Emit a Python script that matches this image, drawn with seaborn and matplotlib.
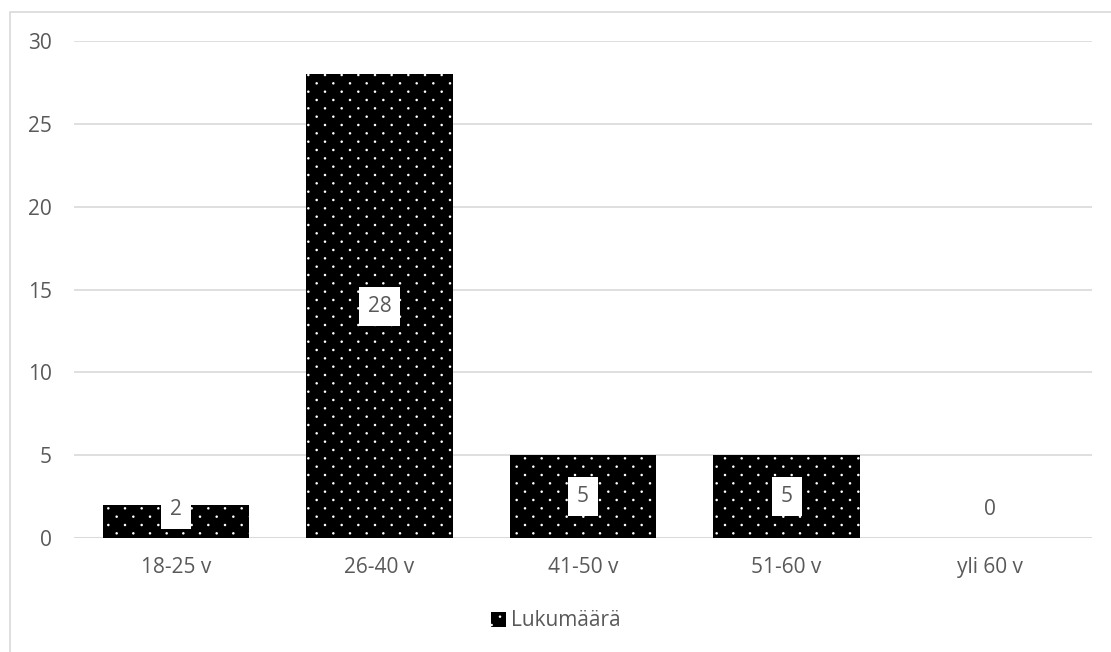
import matplotlib
matplotlib.use("Agg")
import matplotlib.pyplot as plt
import matplotlib.hatch as mhatch
from matplotlib.path import Path
from matplotlib.patches import Rectangle
import numpy as np
import seaborn as sns
import pandas as pd

categories = ["18-25 v", "26-40 v", "41-50 v", "51-60 v", "yli 60 v"]
counts = [2, 28, 5, 5, 0]
series_name = "Lukumäärä"
y_ticks = [0, 5, 10, 15, 20, 25, 30]


class DotLattice(mhatch.HatchPatternBase):
    """Small dots on a staggered (checkerboard) lattice for the '.' hatch."""
    filled = True

    def __init__(self, hatch, density):
        n = hatch.count(".") * density * 2
        self.num_rows = n
        if n == 0:
            self.offsets = []
            self.num_vertices = 0
            return
        self.offsets = [(i / n, j / n) for j in range(n + 1)
                        for i in range(n + 1) if (i + j) % 2 == 0]
        circle = Path.unit_circle()
        self.shape_vertices = circle.vertices * 0.0055
        self.shape_codes = circle.codes
        self.num_vertices = len(self.offsets) * len(self.shape_vertices)

    def set_vertices_and_codes(self, vertices, codes):
        nv = len(self.shape_vertices)
        for k, (x, y) in enumerate(self.offsets):
            vertices[k * nv:(k + 1) * nv] = self.shape_vertices + (x, y)
            codes[k * nv:(k + 1) * nv] = self.shape_codes


mhatch._hatch_types = [DotLattice if t is mhatch.SmallFilledCircles else t
                       for t in mhatch._hatch_types]

sns.set_style("white")
plt.rcParams["font.family"] = ["Open Sans", "DejaVu Sans"]
plt.rcParams["hatch.color"] = "white"
plt.rcParams["hatch.linewidth"] = 1.0

text_color = "#595959"
grid_color = "#d9d9d9"
fs = 15

df = pd.DataFrame({"Ikä": categories, series_name: counts})

fig = plt.figure(figsize=(11.11, 6.52), dpi=100)
ax = fig.add_axes([74 / 1111, 1 - 538 / 652, (1092 - 74) / 1111, (538 - 41) / 652])

sns.barplot(data=df, x="Ikä", y=series_name, color="black", width=0.72,
            saturation=1, ax=ax, zorder=3, label=series_name)

for p in ax.patches:
    p.set_hatch(".")
    p.set_edgecolor("white")
    p.set_linewidth(0)
    p.set_facecolor("black")

ax.set_ylim(0, 30)
ax.set_yticks(y_ticks)
ax.set_xlabel("")
ax.set_ylabel("")
ax.yaxis.grid(True, color=grid_color, linewidth=1.2, zorder=0)
ax.set_axisbelow(True)
for s in ax.spines.values():
    s.set_visible(False)
ax.axhline(0, color=grid_color, linewidth=1.2, zorder=2)
ax.tick_params(axis="both", length=0, labelsize=fs, labelcolor=text_color)
ax.tick_params(axis="x", pad=14)
ax.tick_params(axis="y", pad=16)

# value labels in white boxes centred on each bar (kept clear of the baseline)
min_label_y = 1.7
for i, v in enumerate(counts):
    y = max(v / 2, min_label_y)
    if v > 0:
        ax.text(i, y, str(v), ha="center", va="center", fontsize=fs,
                color=text_color, zorder=5,
                bbox=dict(facecolor="white", edgecolor="none", pad=6.5))
    else:
        ax.text(i, y, str(v), ha="center", va="center", fontsize=fs,
                color=text_color, zorder=5)

leg = ax.legend(loc="center", bbox_to_anchor=(0.5, 1 - 621 / 652),
                bbox_transform=fig.transFigure, frameon=False, fontsize=fs,
                handlelength=0.75, handleheight=0.75, handletextpad=0.2)
for t in leg.get_texts():
    t.set_color(text_color)

# chart area border
fig.patches.append(Rectangle((10 / 1111, -0.05), 1.2, 1 - 12 / 652 + 0.05,
                             transform=fig.transFigure, fill=False,
                             edgecolor=grid_color, linewidth=1.2, zorder=0))

fig.savefig("out.png", dpi=100)
